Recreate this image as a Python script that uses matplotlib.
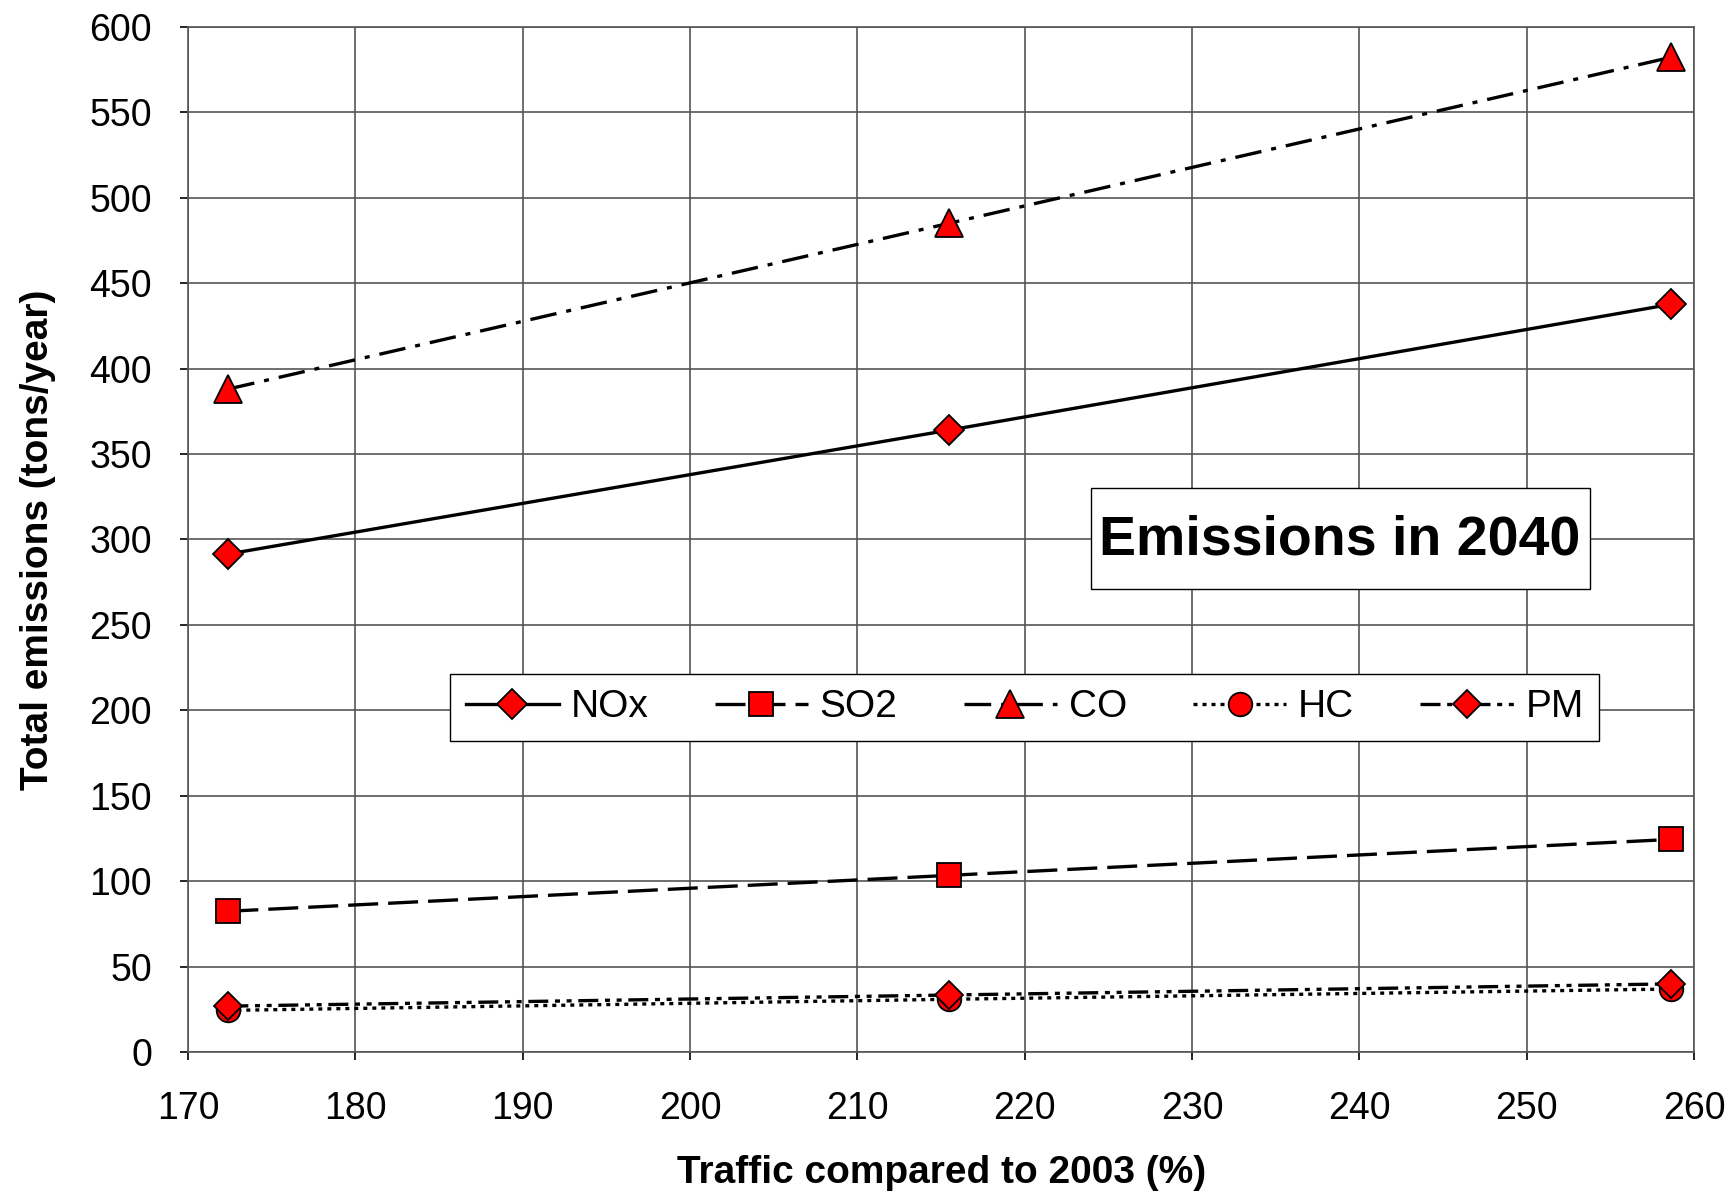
import matplotlib.pyplot as plt
from matplotlib.patches import Rectangle

plt.rcParams['font.family'] = ['Liberation Sans', 'DejaVu Sans']

# traffic compared to 2003 (%)
traffic = [172.4, 215.5, 258.6]

# total emissions (tons/year)
nox = [291.5, 364, 437.5]
so2 = [82.5, 103.5, 124.5]
co = [388, 485, 582]
hc = [24.5, 31, 37]
pm = [27, 33.5, 40]

names = ['NOx', 'SO2', 'CO', 'HC', 'PM']
series = [nox, so2, co, hc, pm]
markers = ['D', 's', '^', 'o', 'D']
msizes = [15, 17, 20, 17, 14]
dashes = [None, (9, 3), (8, 3, 1.5, 3), (1.2, 1.5), (6, 2, 1.5, 2, 1.5, 2)]

fig = plt.figure(figsize=(17.36, 11.94), dpi=100)
ax = fig.add_axes([0.1084, 0.1187, 0.8674, 0.859])

for name, vals, m, ms, d in zip(names, series, markers, msizes, dashes):
    line, = ax.plot(traffic, vals, color='black', lw=2.4, marker=m, ms=ms,
                    markerfacecolor='red', markeredgecolor='black',
                    markeredgewidth=1.3, label=name)
    if d is not None:
        line.set_dashes(d)

ax.set_xlim(170, 260)
ax.set_ylim(0, 600)
ax.set_xticks(range(170, 261, 10))
ax.set_yticks(range(0, 601, 50))
ax.grid(True, color='#555555', lw=1.2)
ax.set_axisbelow(True)
ax.tick_params(labelsize=27, length=6, width=1.2, direction='out')
ax.tick_params(axis='y', pad=20)
ax.tick_params(axis='x', pad=22)
for s in ax.spines.values():
    s.set_color('#555555')
    s.set_linewidth(1.2)

ax.set_xlabel('Traffic compared to 2003 (%)', fontsize=28, fontweight='bold', labelpad=20)
ax.set_ylabel('Total emissions (tons/year)', fontsize=28, fontweight='bold', labelpad=24)

leg = ax.legend(loc='center', bbox_to_anchor=(0.5555, 0.3363), ncol=5, fontsize=28,
                frameon=True, fancybox=False, edgecolor='black', framealpha=1,
                handlelength=2.4, columnspacing=1.7, handletextpad=0.3,
                borderpad=0.4)
leg.get_frame().set_linewidth(1.0)

# title box
ax.add_patch(Rectangle((0.5993, 0.4514), 0.3316, 0.0983, transform=ax.transAxes,
                       facecolor='white', edgecolor='black', lw=1.0, zorder=5))
ax.text(0.765, 0.499, 'Emissions in 2040', transform=ax.transAxes,
        fontsize=40, fontweight='bold', ha='center', va='center', zorder=6)

fig.savefig('out.png', dpi=100)
